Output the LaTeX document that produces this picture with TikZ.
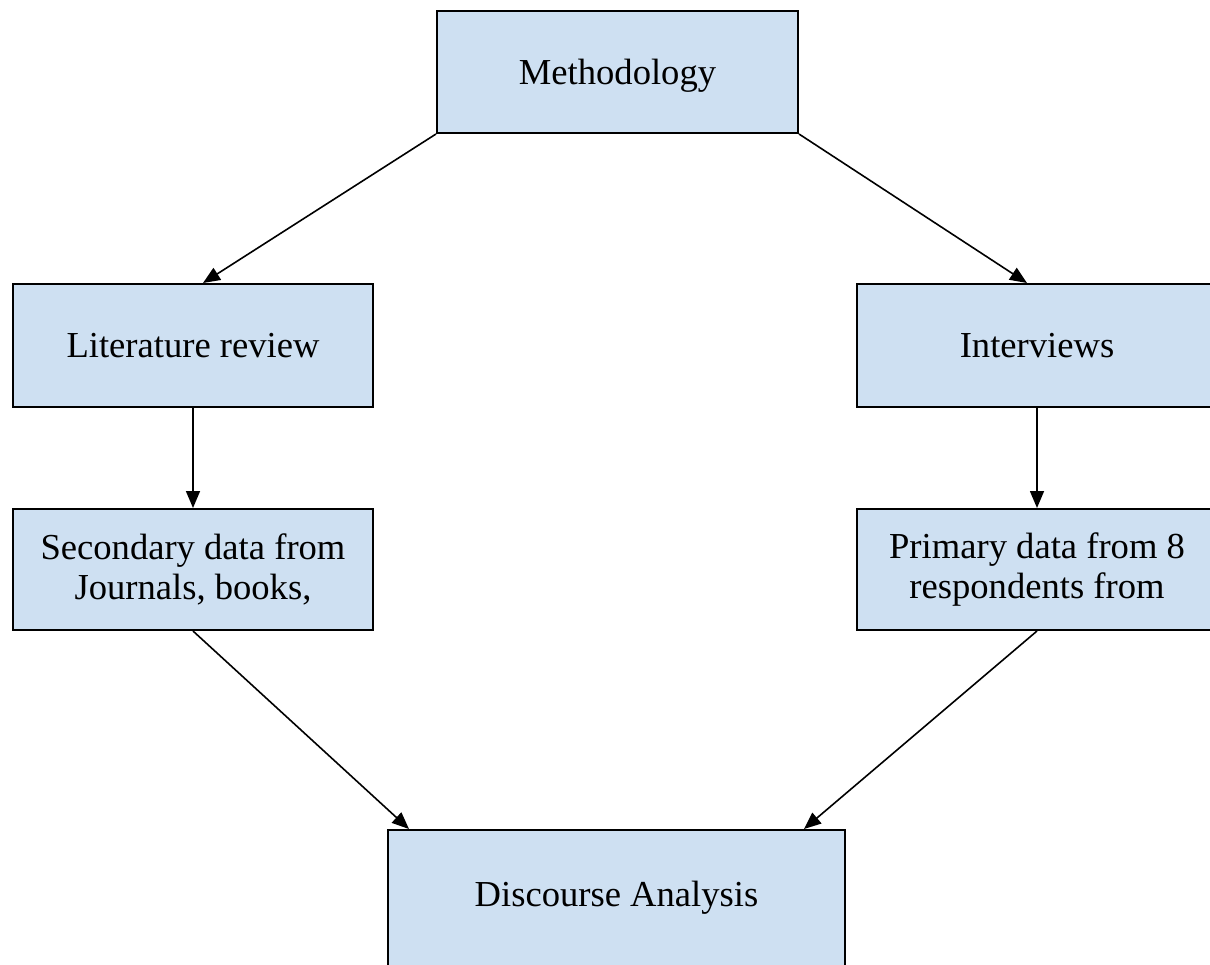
\documentclass[tikz,border=0pt]{standalone}
\usepackage{fontspec}
\setmainfont{Liberation Serif}
\usepackage{tikz}
\usetikzlibrary{positioning, arrows.meta}
\definecolor{boxBlue}{HTML}{CEE0F2}
\definecolor{inkBlack}{HTML}{000000}
\tikzset{
  box/.style = {draw=inkBlack, fill=boxBlue, line width=1pt, align=center,
                font=\fontsize{18.3}{20}\selectfont, inner sep=3pt,
                minimum width=180pt, minimum height=61.5pt},
  fl/.style  = {-{Triangle[length=8.5pt, width=7pt]}, draw=inkBlack, line width=0.8pt}
}
\begin{document}
\begin{tikzpicture}[x=0.5pt, y=-0.5pt]
  \useasboundingbox (0,0) rectangle (1210,964);
  \clip (0,0) rectangle (1210,964);

  % --- top
  \node[box, minimum width=180.5pt, minimum height=61pt, text depth=0pt] (meth) at (617.5,72) {Methodology};

  % --- left column
  \node[box] (litrev) at (193,345.5) {Literature review};
  \node[box, below=50pt of litrev, minimum height=60.5pt] (second) {Secondary data from\\Journals, books,};

  % --- right column
  \node[box] (interv) at (1037,345.5) {Interviews};
  \node[box, below=50pt of interv, minimum height=60.5pt] (primary) {Primary data from 8\\respondents from};

  % --- bottom, runs past the page
  \node[box, anchor=north, minimum width=228.5pt, minimum height=0pt, inner ysep=0pt,
        text height=38pt, text depth=50pt] (discourse) at (616.5,829) {Discourse Analysis};

  \draw[fl] (meth.south west) -- ([xshift=5pt]litrev.north);
  \draw[fl] (meth.south east) -- ([xshift=-5pt]interv.north);
  \draw[fl] (litrev) -- (second);
  \draw[fl] (interv) -- (primary);
  \draw[fl] (second.south) -- ([xshift=11pt]discourse.north west);
  \draw[fl] (primary.south) -- ([xshift=-21pt]discourse.north east);
\end{tikzpicture}
\end{document}
